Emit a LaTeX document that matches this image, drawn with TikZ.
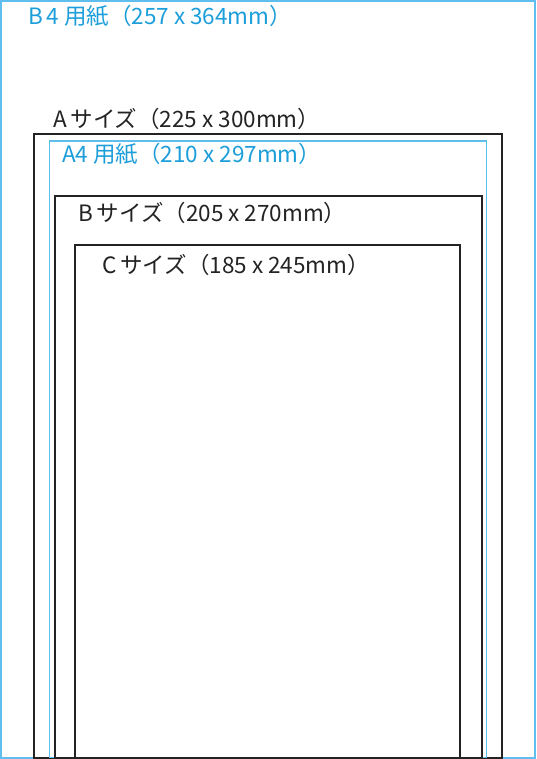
\documentclass[tikz,border=0pt]{standalone}
\usepackage{fontspec}
\setmainfont{Noto Sans CJK JP}
\definecolor{bordblue}{RGB}{95,190,238}
\definecolor{txtblue}{RGB}{28,158,218}
\definecolor{frameblack}{RGB}{35,35,35}
\tikzset{
  blackframe/.style={draw=frameblack, line width=2pt},
  blueframe/.style={draw=bordblue, line width=1.4pt},
  lbl/.style={anchor=base west, inner sep=0pt, font=\fontsize{22.5}{26}\selectfont},
}
\begin{document}
\begin{tikzpicture}[x=1pt,y=-1pt]
\useasboundingbox (0,0) rectangle (536,759);
\fill[white] (0,0) rectangle (536,759);
% B4
\draw[draw=bordblue, line width=2pt] (1,1) rectangle (535,758);
% A size
\draw[blackframe] (34,134) rectangle (502,757.5);
% A4
\draw[blueframe] (49.5,141) rectangle (486.5,757.5);
% B size
\draw[blackframe] (54.5,196) rectangle (481.5,757.5);
% C size
\draw[blackframe] (75,245) rectangle (460,757.5);
% labels
\node[lbl, text=txtblue] (lb4) at (28,25) {B\,4 用紙（257 x 364mm）};
\node[lbl, text=frameblack] (la) at (53,128) {A\,サイズ（225 x 300mm）};
\node[lbl, text=txtblue] (la4) at (62,163) {A4 用紙（210 x 297mm）};
\node[lbl, text=frameblack] (lb) at (78,222) {B\,サイズ（205 x 270mm）};
\node[lbl, text=frameblack] (lc) at (102,273) {C\,サイズ（185 x 245mm）};
\end{tikzpicture}
\end{document}
